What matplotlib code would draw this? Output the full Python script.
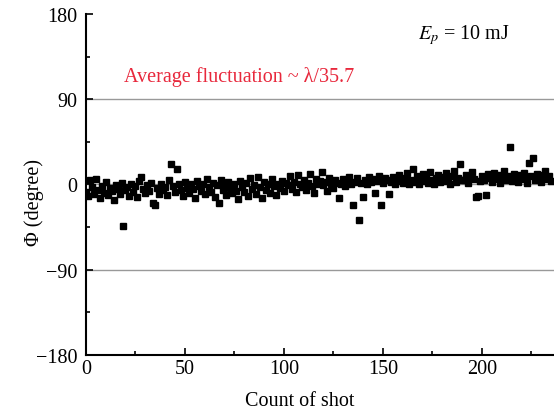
import numpy as np
import matplotlib
matplotlib.use("Agg")
import matplotlib.pyplot as plt
from matplotlib.ticker import MultipleLocator

plt.rcParams['font.family'] = ['Liberation Serif', 'DejaVu Serif']
plt.rcParams['mathtext.fontset'] = 'stix'

# phase per shot (degree)
phase = [
    -8, -12, 5, -3, -10, 6, -6, -14, -2, -9, 3, -11, -4, -7, -16, -1, -5, -10, 2, -44,
    -6, -3, -12, 0, -8, -2, -13, 4, 8, -5, -9, -1, -7, 2, -20, -22, -4, -10, 1, -6,
    -3, -11, 5, 22, -2, -8, 16, 0, -6, -12, 3, -4, -9, 1, -5, -14, 4, -2, -7, 0,
    -10, 6, -3, -8, 2, -13, -1, -20, 5, -6, -2, -11, 3, -4, -9, 1, -7, -15, 4, -3,
    -8, 2, -12, 7, -5, -1, -10, 8, -3, -14, 3, -6, 0, -9, 6, -2, -11, 1, -4, 4,
    -7, 2, -1, 9, -5, 3, -8, 10, 0, -3, 5, -6, 2, 11, -2, -9, 6, 0, 4, 13,
    -1, 3, -7, 7, 0, -4, 5, 2, -14, 1, 6, -2, 4, 8, 0, -22, 3, 7, -37, 2,
    -13, 5, 1, 8, 3, 6, -9, 4, 9, -22, 2, 7, 5, -10, 3, 8, 1, 6, 10, 4,
    2, 7, 12, 0, 5, 16, 3, 9, 1, 6, 11, 4, 8, 2, 13, 5, 0, 7, 10, 3,
    8, 4, 12, 6, 1, 9, 14, 3, 7, 22, 5, 5, 10, 2, 8, 13, 6, -13, -12, 4,
    9, 5, -11, 11, 7, 3, 12, 6, 10, 2, 8, 14, 5, 9, 40, 4, 11, 7, 3, 10,
    6, 12, 8, 2, 23, 9, 28, 5, 11, 7, 3, 10, 14, 6, 9, 4,
]
shots = np.arange(len(phase))
ref_lines = [90, 0, -90]

fig = plt.figure(figsize=(5.54, 4.14), dpi=100)
ax = fig.add_axes([0.155, 0.140, 0.845, 0.824])

for yv in ref_lines:
    ax.axhline(yv, color="#999999", lw=1.0, zorder=1)

ax.plot(shots, phase, ls="none", marker="s", ms=5.0, color="black", zorder=3)

ax.set_xlim(0, 236.4)
ax.set_ylim(-180, 180)
ax.set_yticks([-180, -90, 0, 90, 180])
ax.set_xticks([0, 50, 100, 150, 200])
ax.xaxis.set_minor_locator(MultipleLocator(25))
ax.yaxis.set_minor_locator(MultipleLocator(45))
ax.tick_params(which="both", direction="in", labelsize=14.5, width=1.2)
ax.tick_params(which="major", length=5)
ax.tick_params(axis="y", which="major", pad=6)
ax.tick_params(axis="x", which="major", pad=3)
ax.tick_params(which="minor", length=3)

for s in ["top", "right"]:
    ax.spines[s].set_visible(False)
for s in ["left", "bottom"]:
    ax.spines[s].set_linewidth(1.5)

ax.set_xlabel("Count of shot", fontsize=14.5)
ax.xaxis.set_label_coords(0.457, -0.105)
ax.set_ylabel("Φ (degree)", fontsize=14.5)
ax.yaxis.set_label_coords(-0.09, 0.45)

ax.text(19.2, 114, "Average fluctuation ~ λ/35.7", color="#e8283c",
        fontsize=14.5, va="center", ha="left")
ax.text(167.5, 159, r"$E_p$ = 10 mJ", fontsize=14.5, va="center", ha="left")

fig.savefig("out.png", dpi=100)
